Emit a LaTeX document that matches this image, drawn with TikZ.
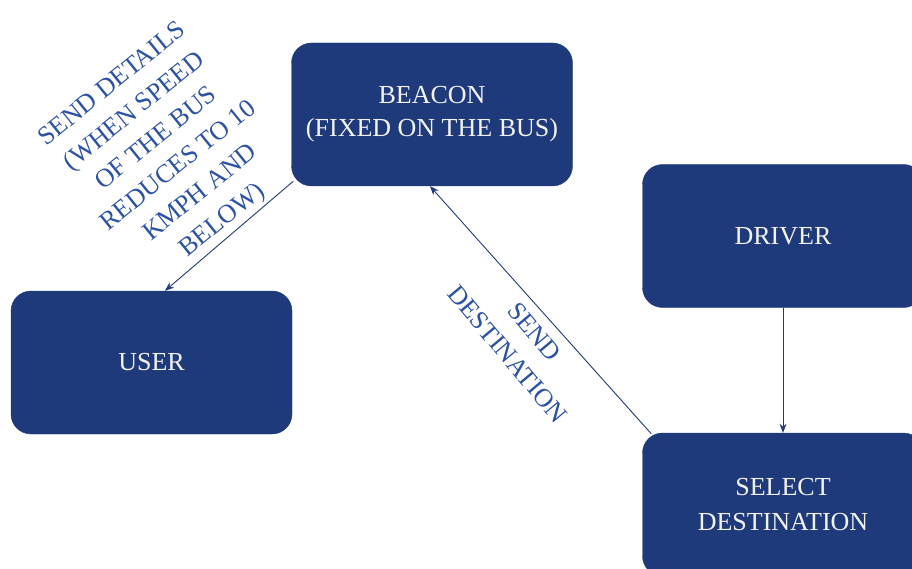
\documentclass[tikz,border=0pt]{standalone}
\usepackage{fontspec}
\setmainfont{Liberation Serif}
\usetikzlibrary{calc,arrows.meta}
\definecolor{boxblue}{HTML}{1E3A7A}
\definecolor{labelblue}{HTML}{2C52A6}
\definecolor{boxtext}{HTML}{F2F2F2}
\tikzset{
  flowbox/.style={fill=boxblue, draw=boxblue, rounded corners=20pt, text=boxtext,
    minimum width=281pt, minimum height=143pt, align=center, inner sep=0pt,
    font=\fontsize{26}{33}\selectfont},
  conn/.style={draw=boxblue, line width=0.9pt, -{Stealth[length=9pt,width=7pt]}},
  edgelabel/.style={text=labelblue, align=center, inner sep=0pt,
    font=\fontsize{26}{35}\selectfont}
}
\begin{document}
\begin{tikzpicture}[x=1pt,y=-1pt]
\useasboundingbox (0,0) rectangle (912,569);
\node[flowbox] (beacon) at (432,114.5) {BEACON\\(FIXED ON THE BUS)};
\node[flowbox] (user) at (151.5,362.5) {USER};
\node[flowbox] (driver) at (783,236) {DRIVER};
\node[flowbox, font=\fontsize{26}{35}\selectfont] (select) at (783,504.5) {SELECT\\DESTINATION};
\draw[conn] ($(beacon.south west)+(2,-5)$) -- ($(user.north)+(13.5,0)$);
\draw[conn] ($(select.north west)+(9,1)$) -- ($(beacon.south)+(-2,0)$);
\draw[conn] (driver.south) -- (select.north);
\node[edgelabel, rotate=39] (lab1) at (168,153) {SEND DETAILS\\(WHEN SPEED\\OF THE BUS\\REDUCES TO 10\\KMPH AND\\BELOW)};
\node[edgelabel, rotate=-50] (lab2) at (521,343) {SEND\\DESTINATION};
\end{tikzpicture}
\end{document}
